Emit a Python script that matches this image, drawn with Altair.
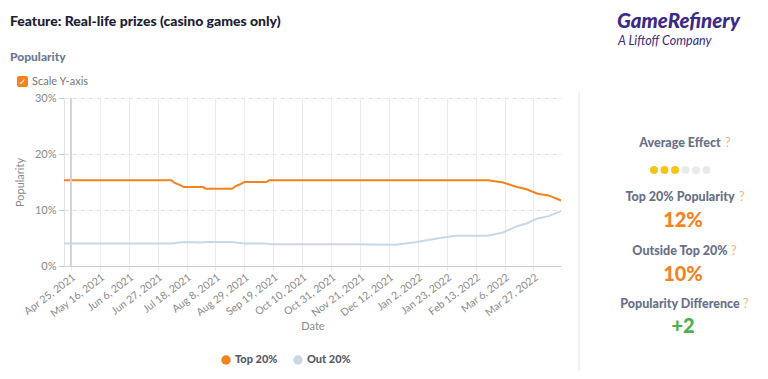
import altair as alt
import pandas as pd

# ---------------- data ----------------
dates_top = ["2021-04-20", "2021-07-07", "2021-07-09", "2021-07-13", "2021-07-16",
             "2021-07-30", "2021-08-01", "2021-08-20", "2021-08-23", "2021-08-25",
             "2021-08-29", "2021-09-14", "2021-09-16", "2022-02-22", "2022-03-05",
             "2022-03-15", "2022-03-22", "2022-03-30", "2022-04-07", "2022-04-16"]
top20 = [15.3, 15.3, 14.9, 14.5, 14.1, 14.1, 13.8, 13.8, 14.3, 14.5,
         15.0, 15.0, 15.3, 15.3, 14.9, 14.1, 13.7, 12.9, 12.6, 11.7]

dates_out = ["2021-04-20", "2021-07-07", "2021-07-16", "2021-07-30", "2021-08-01",
             "2021-08-20", "2021-08-29", "2021-09-14", "2021-09-16", "2021-11-11",
             "2021-12-17", "2022-01-01", "2022-01-16", "2022-01-29", "2022-02-22",
             "2022-03-05", "2022-03-15", "2022-03-22", "2022-03-30", "2022-04-07",
             "2022-04-16"]
out20 = [4.0, 4.0, 4.3, 4.2, 4.3, 4.3, 4.0, 4.0, 3.9, 3.9, 3.8,
         4.3, 4.9, 5.4, 5.4, 6.0, 7.1, 7.6, 8.5, 8.9, 9.8]

series_names = ["Top 20%", "Out 20%"]
series_colors = ["#f5821f", "#c9d8e6"]

tick_dates = [(2021, 4, 25), (2021, 5, 16), (2021, 6, 6), (2021, 6, 27), (2021, 7, 18),
              (2021, 8, 8), (2021, 8, 29), (2021, 9, 19), (2021, 10, 10), (2021, 10, 31),
              (2021, 11, 21), (2021, 12, 12), (2022, 1, 2), (2022, 1, 23), (2022, 2, 13),
              (2022, 3, 6), (2022, 3, 27)]
y_ticks = [0, 10, 20, 30]
highlight_date = "2021-04-25"

effect_score = 3
effect_max = 6
top_pop = "12%"
outside_pop = "10%"
pop_diff = "+2"

FONT = "Lato"
W, H = 497, 168

df = pd.concat([
    pd.DataFrame({"Date": pd.to_datetime(dates_top), "Popularity": top20, "Series": series_names[0]}),
    pd.DataFrame({"Date": pd.to_datetime(dates_out), "Popularity": out20, "Series": series_names[1]}),
])

x_enc = alt.X("Date:T", title="Date",
              scale=alt.Scale(domain=[alt.DateTime(year=2021, month=4, date=20),
                                      alt.DateTime(year=2022, month=4, date=16)]),
              axis=alt.Axis(values=[alt.DateTime(year=y, month=m, date=d) for (y, m, d) in tick_dates],
                            tickCount=40,
                            format="%b %-d, %Y", labelAngle=323, labelFontSize=10.5,
                            labelColor="#8a8a8a", labelFont=FONT, grid=True, gridColor="#ebebeb",
                            domainColor="#cfcfcf", tickColor="#e6e6e6", tickSize=4,
                            labelOverlap=False, labelBound=False, labelFlush=False,
                            titleColor="#8a8a8a", titleFont=FONT, titleFontSize=11,
                            titleFontWeight="normal", titleY=54, labelPadding=2))
y_enc = alt.Y("Popularity:Q", title="Popularity",
              scale=alt.Scale(domain=[0, 30]),
              axis=alt.Axis(values=y_ticks, labelExpr="datum.value + '%'", grid=True,
                            gridColor="#e3e3e3", gridDash=[4, 4], domainColor="#e3e3e3",
                            tickColor="#cfcfcf", tickSize=6, labelColor="#8a8a8a",
                            labelFontSize=11, labelFont=FONT, titleColor="#8a8a8a",
                            titleFont=FONT, titleFontSize=11, titleFontWeight="normal",
                            titleX=-44, titleY=84, titleBaseline="middle", titleAlign="center"))

hl = alt.Chart(pd.DataFrame({"Date": pd.to_datetime([highlight_date])})).mark_rule(
    color="#d2d2d2", strokeWidth=2).encode(x="Date:T")

lines = alt.Chart(df).mark_line(strokeWidth=2).encode(
    x=x_enc, y=y_enc,
    color=alt.Color("Series:N", scale=alt.Scale(domain=series_names, range=series_colors), legend=None),
)


def txt(s, x, y, size=12, color="#687089", weight="bold", align="center", style="normal", font=FONT):
    return alt.Chart(pd.DataFrame({"t": [s]})).mark_text(
        fontSize=size, color=color, fontWeight=weight, align=align, baseline="middle",
        font=font, fontStyle=style).encode(x=alt.value(x), y=alt.value(y), text="t:N")


layers = [lines, hl]

# header texts
layers.append(txt("Feature: Real-life prizes (casino games only)", -54, -76, 14, "#1c2036", 900, "left"))
layers.append(txt("Popularity", -54, -41, 12, "#6e7892", 900, "left"))
# checkbox
layers.append(alt.Chart(pd.DataFrame({"a": [1]})).mark_rect(color="#f5821f", cornerRadius=2).encode(
    x=alt.value(-47), x2=alt.value(-36), y=alt.value(-22), y2=alt.value(-11)))
layers.append(txt("✓", -41.5, -16, 9, "white", "bold", "center", font="DejaVu Sans"))
layers.append(txt("Scale Y-axis", -32, -16, 11, "#777777", "normal", "left"))
# logo
layers.append(txt("GameRefinery", 553, -76, 20.5, "#3b2a86", 900, "left", "italic"))
layers.append(txt("A Liftoff Company", 554, -57, 12.5, "#3b2a86", "normal", "left", "italic"))

# separator
layers.append(alt.Chart(pd.DataFrame({"a": [1]})).mark_rule(color="#e2e2e2", strokeWidth=1).encode(
    x=alt.value(515), y=alt.value(-6), y2=alt.value(300)))

# right panel
CX = 616
panel = [("Average Effect", 45, 661), ("Top 20% Popularity", 99, 675),
         ("Outside Top 20%", 153, 667), ("Popularity Difference", 206, 679)]
for label, yy, qx in panel:
    layers.append(txt(label, CX, yy, 12.5, "#687089", 900))
    layers.append(txt("?", qx, yy, 12.5, "#f7b07a", "normal", "left"))

for i in range(effect_max):
    col = "#f5c518" if i < effect_score else "#e8eaef"
    layers.append(alt.Chart(pd.DataFrame({"a": [1]})).mark_circle(size=64, opacity=1, color=col).encode(
        x=alt.value(CX - 26 + i * 10.5), y=alt.value(72)))

layers.append(txt(top_pop, CX + 3, 123, 20, "#f5821f", 900))
layers.append(txt(outside_pop, CX + 3, 177, 20, "#f5821f", 900))
layers.append(txt(pop_diff, CX + 3, 229, 20, "#4caf50", 900))

# legend
leg_x = [162, 234]
for name, col, lx in zip(series_names, series_colors, leg_x):
    layers.append(alt.Chart(pd.DataFrame({"a": [1]})).mark_circle(size=90, opacity=1, color=col).encode(
        x=alt.value(lx), y=alt.value(262)))
    layers.append(txt(name, lx + 9, 262, 11, "#555b66", 900, "left"))

chart = alt.layer(*layers).properties(
    width=W, height=H, autosize=alt.AutoSizeParams(type="none"),
    padding={"left": 56, "top": 90, "right": 199, "bottom": 105},
    background="white",
).configure_view(stroke=None)

chart.save("out.html", embed_options={"renderer": "svg", "actions": False})
